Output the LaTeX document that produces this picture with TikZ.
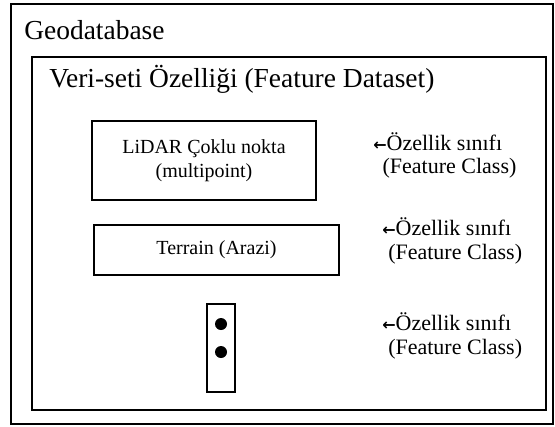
\documentclass[tikz,border=0pt]{standalone}
\usepackage{fontspec}
\setmainfont{Liberation Serif}
\newfontfamily\arrowfont{DejaVu Sans}
\usepackage{tikz}
\usetikzlibrary{positioning}
\newcommand{\fcarrow}{{\arrowfont\bfseries\fontsize{12}{12}\selectfont ←}}

\begin{document}
\begin{tikzpicture}[x=0.75pt,y=-0.75pt,
  title/.style={anchor=base west,inner sep=0pt,font=\fontsize{20.6}{24}\selectfont},
  classbox/.style={draw,line width=1.9pt,inner sep=0pt,align=center,font=\fontsize{15}{18}\selectfont},
  classlbl/.style={anchor=west,align=left,inner sep=0pt,font=\fontsize{16.5}{17.5}\selectfont}]
\useasboundingbox (0,0) rectangle (555,426);
% geodatabase and feature dataset frames
\draw[line width=1.1pt] (11,4) rectangle (553,424);
\node[title] (geo) at (24,39) {Geodatabase};
\draw[line width=1.9pt] (32,57) rectangle (546,410);
\node[title] (fds) at (49,87) {Veri-seti Özelliği (Feature Dataset)};
% feature classes
\node[classbox,minimum width=168pt,minimum height=59.25pt] (lidar) at (204,160.5) {LiDAR Çoklu nokta\\(multipoint)};
\node[classbox,minimum width=183.75pt,minimum height=37.5pt] (terrain) at (216.5,250) {Terrain (Arazi)};
\node[classbox,line width=1.5pt,minimum width=21pt,minimum height=66pt] (pts) at (221,348) {};
\fill (221,324) circle (4.5pt) (221,352) circle (4.5pt);
% labels
\node[classlbl] (lbl1) at (373,155.5) {\fcarrow Özellik sınıfı\\\hspace{7pt}(Feature Class)};
\node[classlbl] (lbl2) at (382,241) {\fcarrow Özellik sınıfı\\\hspace{4.5pt}(Feature Class)};
\node[classlbl] (lbl3) at (382,336) {\fcarrow Özellik sınıfı\\\hspace{4.5pt}(Feature Class)};
\end{tikzpicture}
\end{document}
